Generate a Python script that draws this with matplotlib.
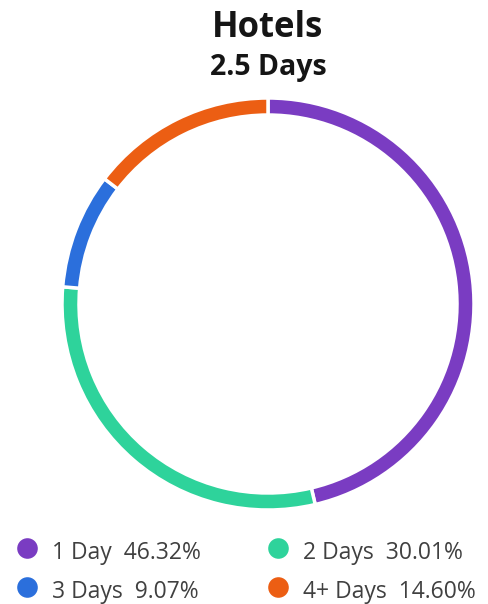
import matplotlib
matplotlib.use("Agg")
import matplotlib.pyplot as plt

# share of hotel stays by length
labels = ["1 Day", "2 Days", "3 Days", "4+ Days"]
shares = [46.32, 30.01, 9.07, 14.60]
colors = ["#7a3cc2", "#2ed39b", "#2b6fdc", "#ec5e13"]
title = "Hotels"
subtitle = "2.5 Days"

W, H = 489, 604
plt.rcParams["font.family"] = ["Open Sans", "DejaVu Sans"]

fig = plt.figure(figsize=(W / 100, H / 100), dpi=100)
fig.patch.set_facecolor("white")

# donut ring
cx, cy, r = 268, 304, 206
ax = fig.add_axes([(cx - r) / W, (H - cy - r) / H, 2 * r / W, 2 * r / H])
ax.pie(shares, colors=colors, startangle=90, counterclock=False,
       wedgeprops=dict(width=17 / r, edgecolor="white", linewidth=2.5))
ax.set_aspect("equal")
ax.set_xlim(-1, 1)
ax.set_ylim(-1, 1)

# overlay in pixel coordinates for titles and legend
ov = fig.add_axes([0, 0, 1, 1])
ov.set_xlim(0, W)
ov.set_ylim(H, 0)
ov.axis("off")

ov.text(cx, 37, title, ha="center", va="baseline", fontsize=25,
        fontweight="bold", color="#151515")
ov.text(cx, 75, subtitle, ha="center", va="baseline", fontsize=20.5,
        fontweight="bold", color="#151515")

for i, (lab, val, col) in enumerate(zip(labels, shares, colors)):
    row, colno = divmod(i, 2)
    mx = 27 if colno == 0 else 278
    y = 548 if row == 0 else 587
    ov.scatter([mx], [y], s=220, color=col, zorder=3, linewidths=0)
    ov.text(mx + 25, y + 11, f"{lab}  {val:.2f}%", ha="left", va="baseline",
            fontsize=16.5, color="#404040")

fig.savefig("out.png", dpi=100, facecolor="white")
